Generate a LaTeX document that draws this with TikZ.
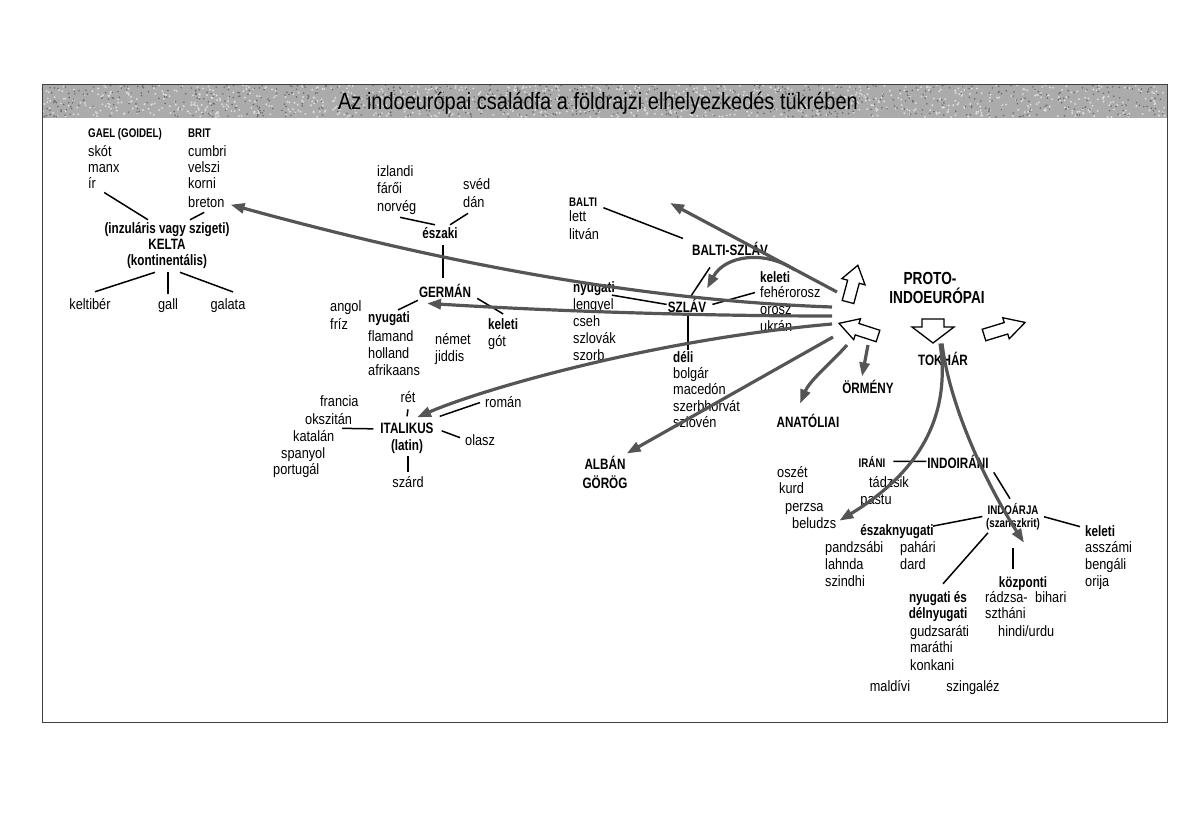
\documentclass[tikz,border=0pt]{standalone}
\usepackage{fontspec}
\setmainfont{Liberation Sans}[FakeStretch=0.85]
\newfontfamily\hbf{Liberation Sans}[FakeStretch=0.78]
\usetikzlibrary{arrows.meta,calc}
\definecolor{arr}{RGB}{85,85,85}
\newcommand\holarrow[7]{%
  \begin{scope}[shift={(#1,#2)}, rotate=#3]
    \draw[hol] (0,-#6) -- (#4,-#6) -- (#4,-#7) -- ({#4+#5},0) -- (#4,#7) -- (#4,#6) -- (0,#6) -- cycle;
  \end{scope}}
\begin{document}
\begin{tikzpicture}[x=1pt,y=-1pt,
  t/.style={font=\fontsize{15}{17}\selectfont, inner sep=0pt, anchor=base west},
  tc/.style={font=\fontsize{15}{17}\selectfont, inner sep=0pt, anchor=base},
  b/.style={font=\hbf\bfseries\fontsize{15}{17}\selectfont, inner sep=0pt, anchor=base},
  bl/.style={font=\hbf\bfseries\fontsize{15}{17}\selectfont, inner sep=0pt, anchor=base west},
  bs/.style={font=\hbf\bfseries\fontsize{12.5}{13}\selectfont, inner sep=0pt},
  bb/.style={font=\hbf\bfseries\fontsize{17.5}{19}\selectfont, inner sep=0pt, anchor=base},
  ln/.style={draw, line width=1.5pt},
  ga/.style={draw=arr, line width=3.2pt, -{Triangle[length=14pt,width=10pt]}},
  hol/.style={draw=black, line width=1.3pt, fill=white, line join=miter}]
\useasboundingbox (0,0) rectangle (1201,816);
% title band
\fill[black!33] (42,84) rectangle (1167,118);
\pgfmathsetseed{7}
\foreach \i in {1,...,1000}{\pgfmathsetmacro\xx{42+1125*rnd}\pgfmathsetmacro\yy{85+32*rnd}\fill[black!14] (\xx,\yy) circle (1.1);}
\foreach \i in {1,...,700}{\pgfmathsetmacro\xx{42+1125*rnd}\pgfmathsetmacro\yy{85+32*rnd}\fill[black!58] (\xx,\yy) circle (0.9);}
\node[font=\fontsize{23.5}{25}\selectfont, anchor=base, inner sep=0pt] (title) at (598,109) {Az indoeurópai családfa a földrajzi elhelyezkedés tükrében};
\draw[line width=0.9pt, black!75] (42,84) rectangle (1167,722);

% ---------- Celtic
\node[bs,anchor=base west] (gael) at (88,137) {GAEL (GOIDEL)};
\node[bs,anchor=base west] (brit) at (188,137) {BRIT};
\node[t] (skot) at (88,156) {skót};
\node[t] (manx) at (88,172) {manx};
\node[t] (ir) at (88,188) {ír};
\node[t] (cumbri) at (188,156) {cumbri};
\node[t] (velszi) at (188,172) {velszi};
\node[t] (korni) at (188,188) {korni};
\node[t] (breton) at (188,207) {breton};
\node[b] (insul) at (167,233) {(inzuláris vagy szigeti)};
\node[b] (kelta) at (167,249) {KELTA};
\node[b] (kont) at (167,265) {(kontinentális)};
\node[tc] (keltiber) at (90,309) {keltibér};
\node[tc] (gall) at (168,309) {gall};
\node[tc] (galata) at (228,309) {galata};

% ---------- Germanic
\node[t] (izlandi) at (377,176) {izlandi};
\node[t] (faroi) at (377,193) {fárői};
\node[t] (norveg) at (377,211) {norvég};
\node[t] (sved) at (463,189) {svéd};
\node[t] (dan) at (463,207) {dán};
\node[b] (eszaki) at (440,238) {északi};
\node[b] (german) at (445,297) {GERMÁN};
\node[t] (angol) at (330,311) {angol};
\node[t] (friz) at (330,329) {fríz};
\node[bl] (gnyug) at (368,322) {nyugati};
\node[t] (flamand) at (368,341) {flamand};
\node[t] (holland) at (368,358) {holland};
\node[t] (afrikaans) at (368,375) {afrikaans};
\node[t] (nemet) at (435,344) {német};
\node[t] (jiddis) at (435,361) {jiddis};
\node[bl] (gkel) at (488,329) {keleti};
\node[t] (got) at (488,346) {gót};

% ---------- Italic
\node[tc] (ret) at (408,402) {rét};
\node[b] (italikus) at (407,433) {ITALIKUS};
\node[b] (latin) at (407,450) {(latin)};
\node[t] (francia) at (320,406) {francia};
\node[t] (okszitan) at (305,424) {okszitán};
\node[t] (katalan) at (293,441) {katalán};
\node[t] (spanyol) at (281,458) {spanyol};
\node[t] (portugal) at (273,474) {portugál};
\node[t] (olasz) at (465,445) {olasz};
\node[tc] (szard) at (408,487) {szárd};
\node[t] (roman) at (485,407) {román};

% ---------- Balto-Slavic
\node[bs,anchor=base west] (balti) at (569,206) {BALTI};
\node[t] (lett) at (569,221) {lett};
\node[t] (litvan) at (569,239) {litván};
\node[b] (baltiszlav) at (730,255) {BALTI-SZLÁV};
\node[b] (szlav) at (687,312) {SZLÁV};
\node[bl] (snyug) at (573,292) {nyugati};
\node[t] (lengyel) at (573,309) {lengyel};
\node[t] (cseh) at (573,326) {cseh};
\node[t] (szlovak) at (573,343) {szlovák};
\node[t] (szorb) at (573,360) {szorb};
\node[bl] (skel) at (760,282) {keleti};
\node[t] (feherorosz) at (760,297) {fehérorosz};
\node[t] (orosz) at (760,314) {orosz};
\node[t] (ukran) at (760,331) {ukrán};
\node[bl] (deli) at (673,362) {déli};
\node[t] (bolgar) at (673,378) {bolgár};
\node[t] (macedon) at (673,394) {macedón};
\node[t] (szerbhorvat) at (673,411) {szerbhorvát};
\node[t] (szloven) at (673,427) {szlovén};

% ---------- PIE and others
\node[bb] (proto) at (930,284) {PROTO-};
\node[bb] (indoeur) at (937,303) {INDOEURÓPAI};
\node[b] (tokhar) at (943,365) {TOKHÁR};
\node[b] (ormeny) at (868,393) {ÖRMÉNY};
\node[b] (anatoliai) at (808,427) {ANATÓLIAI};
\node[b] (alban) at (605,469) {ALBÁN};
\node[b] (gorog) at (605,488) {GÖRÖG};

% ---------- Indo-Iranian
\node[bs,anchor=base] (irani) at (872,467) {IRÁNI};
\node[b] (indoirani) at (958,468) {INDOIRÁNI};
\node[tc] (tadzsik) at (889,487) {tádzsik};
\node[tc] (pastu) at (876,504) {pastu};
\node[t] (oszet) at (777,477) {oszét};
\node[t] (kurd) at (779,493) {kurd};
\node[t] (perzsa) at (785,511) {perzsa};
\node[t] (beludzs) at (792,528) {beludzs};
\node[bs,anchor=base] (indoarja) at (1013,514) {INDOÁRJA};
\node[bs,anchor=base] (szanszkrit) at (1013,527) {(szanszkrit)};
\node[b] (eny) at (897,535) {északnyugati};
\node[bl] (ikel) at (1085,536) {keleti};
\node[t] (asszami) at (1085,552) {asszámi};
\node[t] (bengali) at (1085,569) {bengáli};
\node[t] (orija) at (1085,586) {orija};
\node[t] (pandzsabi) at (825,552) {pandzsábi};
\node[t] (lahnda) at (825,569) {lahnda};
\node[t] (szindhi) at (825,586) {szindhi};
\node[t] (pahari) at (900,552) {pahári};
\node[t] (dard) at (900,569) {dard};
\node[b] (nyes) at (938,602) {nyugati és};
\node[b] (delnyugati) at (938,618) {délnyugati};
\node[t] (gudzsarati) at (910,636) {gudzsaráti};
\node[t] (marathi) at (910,652) {maráthi};
\node[t] (konkani) at (910,670) {konkani};
\node[tc] (maldivi) at (890,691) {maldívi};
\node[tc] (szingalez) at (973,691) {szingaléz};
\node[b] (kozp) at (1023,587) {központi};
\node[t] (radzsa) at (985,602) {rádzsa-};
\node[t] (sztani) at (985,618) {sztháni};
\node[t] (bihari) at (1035,602) {bihari};
\node[t] (hindi) at (998,636) {hindi/urdu};

% ---------- black connectors
\draw[ln] ([shift={(8,10)}]ir.east) -- ([shift={(-19,-2)}]insul.north);
\draw[ln] ([shift={(-2,5)}]breton.south) -- ([shift={(23,-2)}]insul.north);
\draw[ln] ([shift={(-12,4)}]kont.south) -- ([shift={(5,-6)}]keltiber.north);
\draw[ln] ([shift={(1,4)}]kont.south) -- ([shift={(0,-4)}]gall.north);
\draw[ln] ([shift={(13,4)}]kont.south) -- ([shift={(5,-6)}]galata.north);

\draw[ln] ([shift={(23,3)}]norveg.south west) -- ([shift={(-5,-2)}]eszaki.north);
\draw[ln] ([shift={(10,-2)}]eszaki.north) -- ([shift={(5,6)}]dan.south west);
\draw[ln] ([shift={(3,7)}]eszaki.south) -- ([shift={(-2,-6)}]german.north);
\draw[ln] ([shift={(-1,3)}]german.south west) -- ([shift={(9,-1)}]gnyug.north);
\draw[ln] ([shift={(6,1)}]german.south east) -- ([shift={(0,-4)}]gkel.north);

\draw[ln] ([shift={(0,7)}]ret.south) -- ([shift={(0,-6)}]italikus.north);
\draw[ln] ([shift={(-10,4)}]okszitan.south east) -- ([shift={(-7,1)}]italikus.west);
\draw[ln] ([shift={(8,3)}]italikus.east) -- ([shift={(-5,-2)}]olasz.west);
\draw[ln] ([shift={(1,3)}]latin.south) -- ([shift={(0,-4)}]szard.north);
\draw[ln] ([shift={(-5,1)}]roman.west) -- ([shift={(6,-6)}]italikus.north east);

\draw[ln] ([shift={(6,6)}]balti.east) -- ([shift={(-9,-10)}]baltiszlav.west);
\draw[ln] ([shift={(-20,12)}]baltiszlav.south) -- ([shift={(3,-1)}]szlav.north);
\draw[ln] ([shift={(-3,7)}]snyug.east) -- ([shift={(-1,-1)}]szlav.west);
\draw[ln] ([shift={(6,-1)}]szlav.east) -- ([shift={(-5,1)}]feherorosz.west);
\draw[ln] ([shift={(1,1)}]szlav.south) -- ([shift={(15,-1)}]deli.north west);

\draw[ln] ([shift={(8,0)}]irani.east) -- ([shift={(-1,0)}]indoirani.west);
\draw[ln] ([shift={(5,4)}]indoirani.south east) -- ([shift={(-3,-4)}]indoarja.north);
\draw[ln] ([shift={(-5,8)}]indoarja.west) -- ([shift={(-1,-5)}]eny.east);
\draw[ln] ([shift={(4,-1)}]szanszkrit.north east) -- ([shift={(-5,-4)}]ikel.west);
\draw[ln] ([shift={(2,3)}]szanszkrit.south west) -- ([shift={(5,-7)}]nyes.north);
\draw[ln] ([shift={(0,18)}]szanszkrit.south) -- ([shift={(-10,-7)}]kozp.north);

% ---------- hollow arrows of the proto-language (x, y of tail, rotation, shaft, head, half shaft, half head)
\holarrow{848}{302}{75}{21}{17}{6}{12}
\holarrow{878}{336}{162}{22}{19}{6}{11}
\holarrow{933}{319}{-90}{8}{16}{11}{21}
\holarrow{984}{335}{17}{23}{20}{6}{11}

% ---------- gray migration arrows
\coordinate (sA) at (832,307);
\coordinate (sB) at (832,316);
\coordinate (sC) at (832,324);
\coordinate (sD) at (833,337);
\coordinate (sE) at (847,345);
\coordinate (sF) at (868,345);
\coordinate (sG) at (837,292);
\coordinate (gEnd) at (670,203);
\coordinate (sH) at (795,270);
\draw[ga] (sA) .. controls (632,300) and (432,260) .. ([shift={(6,3)}]breton.east);
\draw[ga] (sB) .. controls (700,316) and (550,311) .. ([shift={(-18,6)}]german.south);
\draw[ga] (sC) .. controls (650,340) and (480,390) .. ([shift={(10,-5)}]italikus.north);
\draw[ga] (sD) -- ([shift={(1,-2)}]alban.north east);
\draw[ga] (sE) .. controls (832,362) and (810,380) .. ([shift={(-8,-10)}]anatoliai.north);
\draw[ga] (sF) -- ([shift={(-6,-3)}]ormeny.north);
\draw[ga] (sG) -- (gEnd);
\draw[ga] (sH) .. controls (765,250) and (725,255) .. ([shift={(20,-10)}]szlav.north);
\draw[ga] ([shift={(-3,-8)}]tokhar.north) .. controls (952,420) and (915,475) .. ([shift={(3,-2)}]beludzs.east);
\draw[ga] ([shift={(-1,-8)}]tokhar.north) .. controls (950,410) and (990,490) .. ([shift={(-16,13)}]szanszkrit.south east);
\end{tikzpicture}
\end{document}
